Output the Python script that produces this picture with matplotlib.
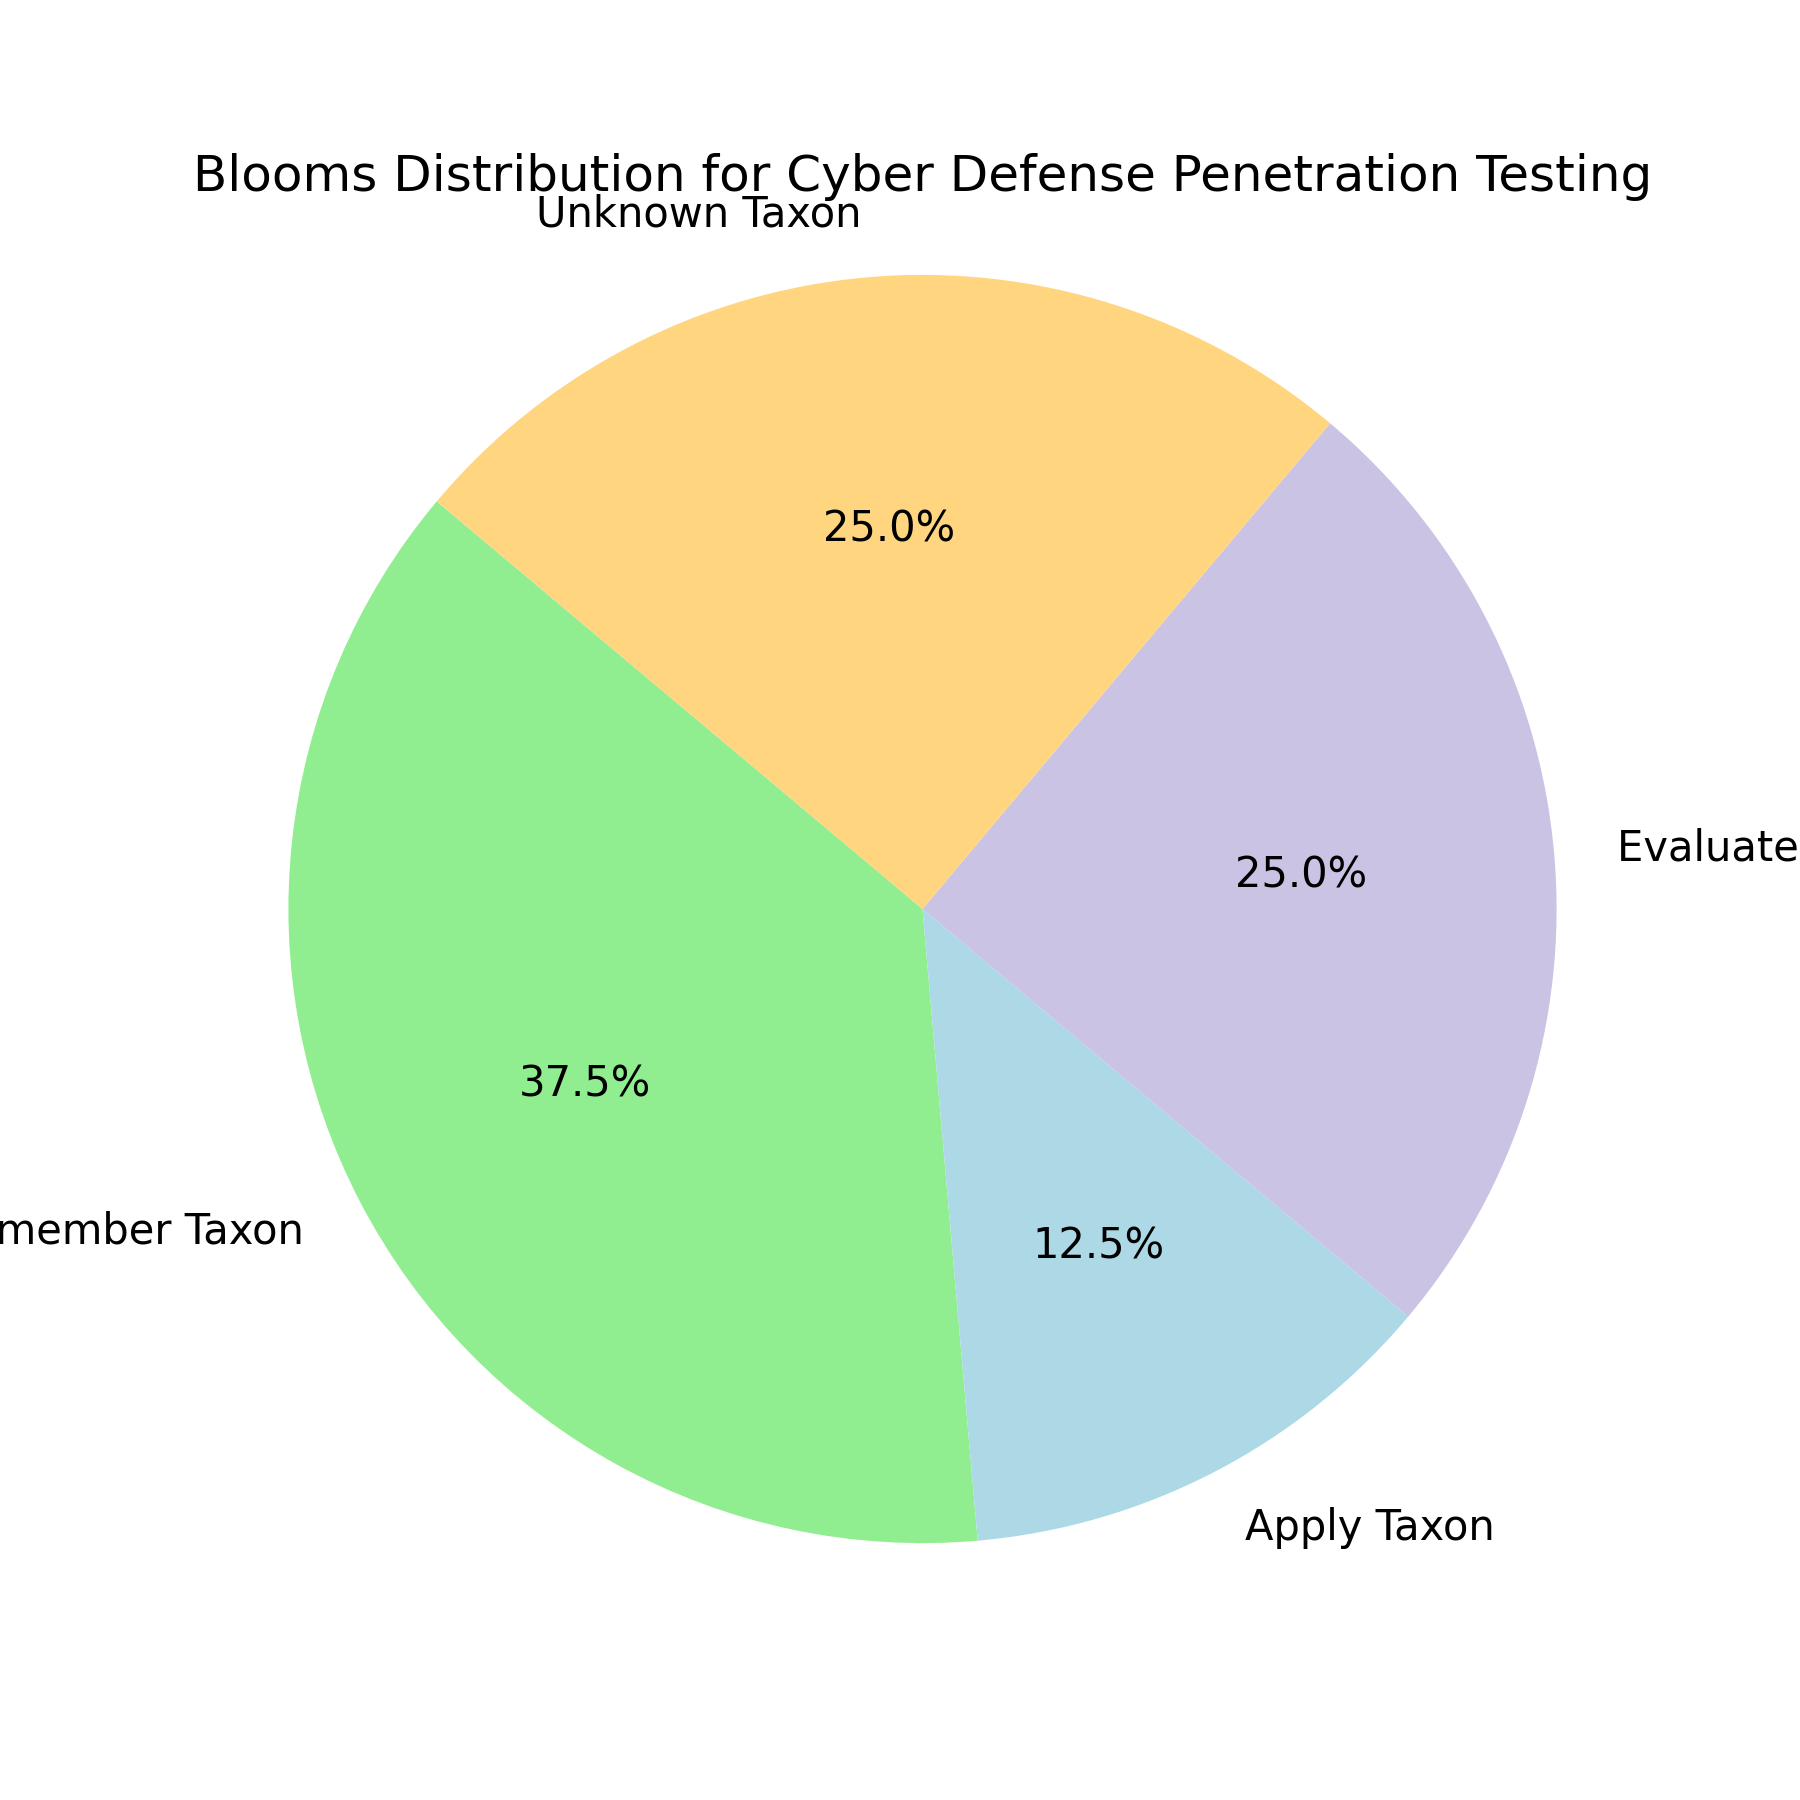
import matplotlib
matplotlib.use("Agg")
import matplotlib.pyplot as plt

# Bloom taxonomy share per level
labels = ['Remember Taxon', 'Apply Taxon', 'Evaluate Taxon', 'Unknown Taxon']
sizes = [37.5, 12.5, 25.0, 25.0]
colors = ['#90EE90', '#ADD8E6', '#CBC3E3', '#FFD580']

fig, ax = plt.subplots(figsize=(6, 6), dpi=300)
ax.pie(sizes, labels=labels, colors=colors, autopct='%1.1f%%', startangle=140)
ax.set_xlim(-1.1, 1.1)
ax.set_ylim(-1.1, 1.1)
ax.set_aspect('equal', adjustable='datalim')
ax.set_title('Blooms Distribution for Cyber Defense Penetration Testing')

plt.savefig('out.png', dpi=300)
